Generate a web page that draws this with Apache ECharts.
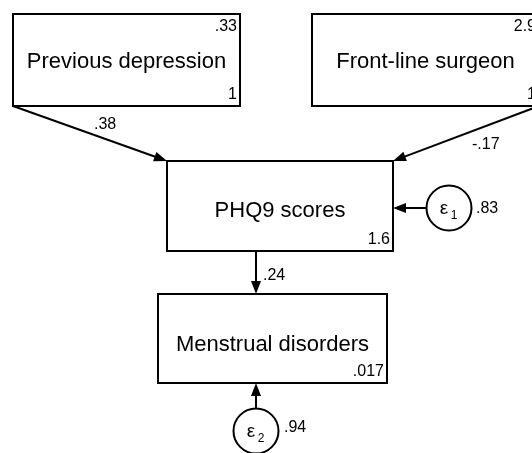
<!DOCTYPE html>
<html><head><meta charset="utf-8">
<script src="https://cdn.jsdelivr.net/npm/echarts@6/dist/echarts.min.js"></script>
<style>html,body{margin:0;padding:0;background:#fff}#c{width:532px;height:453px}</style>
</head><body><div id="c"></div>
<script>
// ---- data ----
const nodeNames = ['Previous depression', 'Front-line surgeon', 'PHQ9 scores', 'Menstrual disorders'];
const nodeTopRight = ['.33', '2.9', '', ''];
const nodeBottomRight = ['1', '1', '1.6', '.017'];
const pathFrom = [0, 1, 2];
const pathTo = [2, 2, 3];
const pathCoef = ['.38', '-.17', '.24'];
const errorSymbol = ['ε', 'ε'];
const errorIndex = ['1', '2'];
const errorTarget = [2, 3];
const errorVariance = ['.83', '.94'];

// ---- layout (diagram units) ----
const nodeBox = [[13, 14, 240, 106], [312, 14, 539, 106], [167, 161, 393, 251], [158, 294, 387, 383]];
const nodeTextY = [61.5, 61.5, 210.5, 344.5];
const pathStart = [[13, 106], [539, 106], [256, 251]];
const pathEnd = [[167, 161], [393, 161], [256, 294]];
const pathLabelPos = [[94, 125], [472, 145], [263, 276]];
const errorCenter = [[449, 208], [256, 431]];
const errorRadius = 22.5;
const errorArrowEnd = [[393, 208], [256, 383]];
const errorLabelPos = [[476, 209], [284, 428]];

const FONT = "'Liberation Sans', Arial, Helvetica, sans-serif";
const INK = '#000';

function arrowShapes(api, a, b) {
  const p0 = api.coord(a), p1 = api.coord(b);
  const dx = p1[0] - p0[0], dy = p1[1] - p0[1];
  const len = Math.sqrt(dx * dx + dy * dy);
  const ux = dx / len, uy = dy / len, nx = -uy, ny = ux;
  const L = 13, W = 5;
  const bx = p1[0] - ux * L, by = p1[1] - uy * L;
  return [
    { type: 'line', shape: { x1: p0[0], y1: p0[1], x2: bx + ux * 2, y2: by + uy * 2 },
      style: { stroke: INK, lineWidth: 2 } },
    { type: 'polygon', shape: { points: [[p1[0], p1[1]], [bx + nx * W, by + ny * W], [bx - nx * W, by - ny * W]] },
      style: { fill: INK } }
  ];
}

const chart = echarts.init(document.getElementById('c'), null, { renderer: 'canvas' });
chart.setOption({
  animation: false,
  backgroundColor: '#fff',
  grid: { left: 0, right: 0, top: 0, bottom: 0 },
  xAxis: { type: 'value', min: 0, max: 532, show: false },
  yAxis: { type: 'value', min: 0, max: 453, inverse: true, show: false },
  series: [
    {
      type: 'custom', coordinateSystem: 'cartesian2d', clip: true,
      data: nodeNames.map((n, i) => [i]),
      renderItem: function (params, api) {
        const i = params.dataIndex;
        const b = nodeBox[i];
        const tl = api.coord([b[0], b[1]]), br = api.coord([b[2], b[3]]);
        const cx = (tl[0] + br[0]) / 2;
        const ty = api.coord([0, nodeTextY[i]])[1];
        const kids = [
          { type: 'rect', shape: { x: tl[0], y: tl[1], width: br[0] - tl[0], height: br[1] - tl[1] },
            style: { fill: '#fff', stroke: INK, lineWidth: 2 } },
          { type: 'text', style: { text: nodeNames[i], x: cx, y: ty, align: 'center', verticalAlign: 'middle',
            fill: INK, fontSize: 22, fontFamily: FONT } }
        ];
        if (nodeTopRight[i]) kids.push({ type: 'text', style: { text: nodeTopRight[i], x: br[0] - 3, y: tl[1] + 13,
          align: 'right', verticalAlign: 'middle', fill: INK, fontSize: 16, fontFamily: FONT } });
        if (nodeBottomRight[i]) kids.push({ type: 'text', style: { text: nodeBottomRight[i], x: br[0] - 3, y: br[1] - 11,
          align: 'right', verticalAlign: 'middle', fill: INK, fontSize: 16, fontFamily: FONT } });
        return { type: 'group', children: kids };
      }
    },
    {
      type: 'custom', coordinateSystem: 'cartesian2d', clip: true,
      data: pathCoef.map((c, i) => [i]),
      renderItem: function (params, api) {
        const i = params.dataIndex;
        const kids = arrowShapes(api, pathStart[i], pathEnd[i]);
        const lp = api.coord(pathLabelPos[i]);
        kids.push({ type: 'text', style: { text: pathCoef[i], x: lp[0], y: lp[1], align: 'left', verticalAlign: 'middle',
          fill: INK, fontSize: 16, fontFamily: FONT } });
        return { type: 'group', children: kids };
      }
    },
    {
      type: 'custom', coordinateSystem: 'cartesian2d', clip: true,
      data: errorVariance.map((v, i) => [i]),
      renderItem: function (params, api) {
        const i = params.dataIndex;
        const c = errorCenter[i], t = errorArrowEnd[i];
        const dx = t[0] - c[0], dy = t[1] - c[1];
        const len = Math.sqrt(dx * dx + dy * dy);
        const start = [c[0] + dx / len * errorRadius, c[1] + dy / len * errorRadius];
        const kids = arrowShapes(api, start, t);
        const pc = api.coord(c);
        const pr = api.coord([c[0] + errorRadius, c[1]]);
        const r = pr[0] - pc[0];
        kids.push({ type: 'circle', shape: { cx: pc[0], cy: pc[1], r: r }, style: { fill: '#fff', stroke: INK, lineWidth: 2 } });
        kids.push({ type: 'text', style: { text: errorSymbol[i], x: pc[0] - 5, y: pc[1] + 1, align: 'center', verticalAlign: 'middle',
          fill: INK, fontSize: 19, fontFamily: FONT } });
        kids.push({ type: 'text', style: { text: errorIndex[i], x: pc[0] + 5, y: pc[1] + 8, align: 'center', verticalAlign: 'middle',
          fill: INK, fontSize: 12, fontFamily: FONT } });
        const lp = api.coord(errorLabelPos[i]);
        kids.push({ type: 'text', style: { text: errorVariance[i], x: lp[0], y: lp[1], align: 'left', verticalAlign: 'middle',
          fill: INK, fontSize: 16, fontFamily: FONT } });
        return { type: 'group', children: kids };
      }
    }
  ]
});
</script>
</body></html>
